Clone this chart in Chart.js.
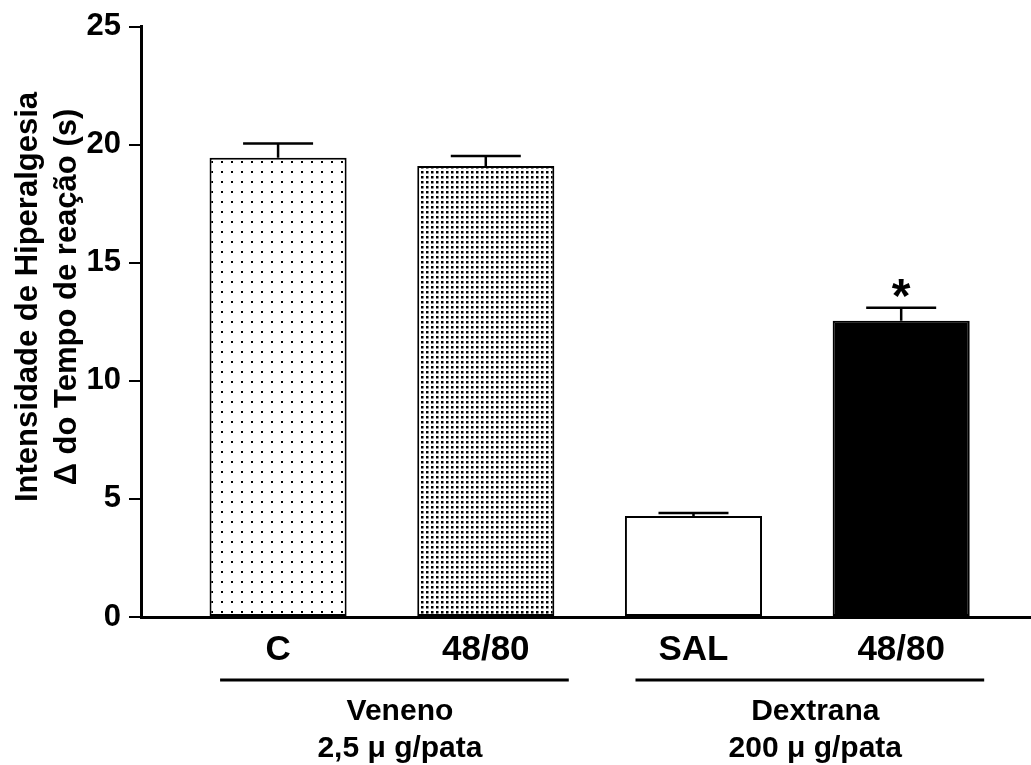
<!DOCTYPE html>
<html>
<head>
<meta charset="utf-8">
<script src="https://cdn.jsdelivr.net/npm/chart.js@4/dist/chart.umd.min.js"></script>
<style>
  html, body { margin: 0; padding: 0; background: #fff; }
  canvas { display: block; }
</style>
</head>
<body>
<canvas id="hyperalgesia" width="1031" height="765"></canvas>
<script>
const categories = ['C', '48/80', 'SAL', '48/80'];
const meanValues = [19.45, 19.1, 4.28, 12.54];
const semValues = [0.6, 0.42, 0.12, 0.55];
const marks = ['', '', '', '*'];
const yTicks = [0, 5, 10, 15, 20, 25];
const groupNames = ['Veneno', 'Dextrana'];
const groupDoses = ['2,5 μ g/pata', '200 μ g/pata'];
const groupMembers = [[0, 1], [2, 3]];
const yTitle = ['Intensidade de Hiperalgesia', 'Δ do Tempo de reação (s)'];

const FONT = '"Liberation Sans", Arial, Helvetica, sans-serif';

const canvas = document.getElementById('hyperalgesia');
const ctx = canvas.getContext('2d');

// dotted fills: white tile with one black dot in the corner
function dotPattern(step, size) {
  const tile = document.createElement('canvas');
  tile.width = step;
  tile.height = step;
  const t = tile.getContext('2d');
  t.fillStyle = '#fff';
  t.fillRect(0, 0, step, step);
  t.fillStyle = '#000';
  t.fillRect(1, 1, size, size);
  return ctx.createPattern(tile, 'repeat');
}

const fills = [dotPattern(10, 2), dotPattern(5, 2.5), '#ffffff', '#000000'];

// error bars (upper half only), significance marks, group labels and y title
const extras = {
  id: 'extras',
  afterDatasetsDraw(chart) {
    const c = chart.ctx;
    const y = chart.scales.y;
    const bars = chart.getDatasetMeta(0).data;
    c.save();
    c.strokeStyle = '#000';
    c.fillStyle = '#000';
    c.lineWidth = 2.5;
    bars.forEach((bar, i) => {
      const top = y.getPixelForValue(meanValues[i] + semValues[i]);
      c.beginPath();
      c.moveTo(bar.x, bar.y);
      c.lineTo(bar.x, top);
      c.moveTo(bar.x - 35, top);
      c.lineTo(bar.x + 35, top);
      c.stroke();
      if (marks[i]) {
        c.font = 'bold 48px ' + FONT;
        c.textAlign = 'center';
        c.textBaseline = 'alphabetic';
        c.fillText(marks[i], bar.x, top + 4);
      }
    });
    c.restore();
  },
  afterDraw(chart) {
    const c = chart.ctx;
    const bars = chart.getDatasetMeta(0).data;
    c.save();
    c.fillStyle = '#000';
    c.strokeStyle = '#000';
    c.textAlign = 'center';
    c.textBaseline = 'alphabetic';

    groupMembers.forEach((m, g) => {
      const x0 = bars[m[0]].x;
      const x1 = bars[m[1]].x;
      c.lineWidth = 3;
      c.beginPath();
      c.moveTo(x0 - 58, 680);
      c.lineTo(x1 + 83, 680);
      c.stroke();
      const mid = (x0 + x1) / 2 + 18;
      c.font = 'bold 30px ' + FONT;
      c.fillText(groupNames[g], mid, 720);
      c.fillText(groupDoses[g], mid, 757);
    });

    c.font = 'bold 31px ' + FONT;
    [37, 76].forEach((x, k) => {
      c.save();
      c.translate(x, 297);
      c.rotate(-Math.PI / 2);
      c.fillText(yTitle[k], 0, 0);
      c.restore();
    });
    c.restore();
  }
};

new Chart(ctx, {
  type: 'bar',
  data: {
    datasets: [{
      data: meanValues.map((v, i) => ({ x: i, y: v })),
      backgroundColor: fills,
      borderColor: '#000',
      borderWidth: 2,
      borderSkipped: false,
      categoryPercentage: 1,
      barPercentage: 0.66
    }]
  },
  options: {
    responsive: false,
    animation: false,
    events: [],
    layout: { padding: { top: 3, right: 0, bottom: 0, left: 0 } },
    plugins: {
      legend: { display: false },
      tooltip: { enabled: false }
    },
    scales: {
      x: {
        type: 'linear',
        offset: false,
        min: -0.66,
        max: 3.625,
        afterBuildTicks: s => { s.ticks = categories.map((_, i) => ({ value: i })); },
        afterFit: s => { s.height = 148; },
        ticks: {
          callback: v => categories[v],
          color: '#000',
          font: { family: FONT, size: 35, weight: 'bold' },
          padding: 12,
          maxRotation: 0,
          autoSkip: false
        },
        grid: { display: false, drawTicks: false },
        border: { display: true, color: '#000', width: 3 }
      },
      y: {
        min: 0,
        max: 25,
        afterBuildTicks: s => { s.ticks = yTicks.map(v => ({ value: v })); },
        afterFit: s => { s.width = 141; },
        ticks: {
          color: '#000',
          font: { family: FONT, size: 31, weight: 'bold' },
          padding: 8
        },
        grid: { drawOnChartArea: false, drawTicks: true, tickLength: 12, color: '#000', lineWidth: 2 },
        border: { display: true, color: '#000', width: 3 }
      }
    }
  },
  plugins: [extras]
});
</script>
</body>
</html>
